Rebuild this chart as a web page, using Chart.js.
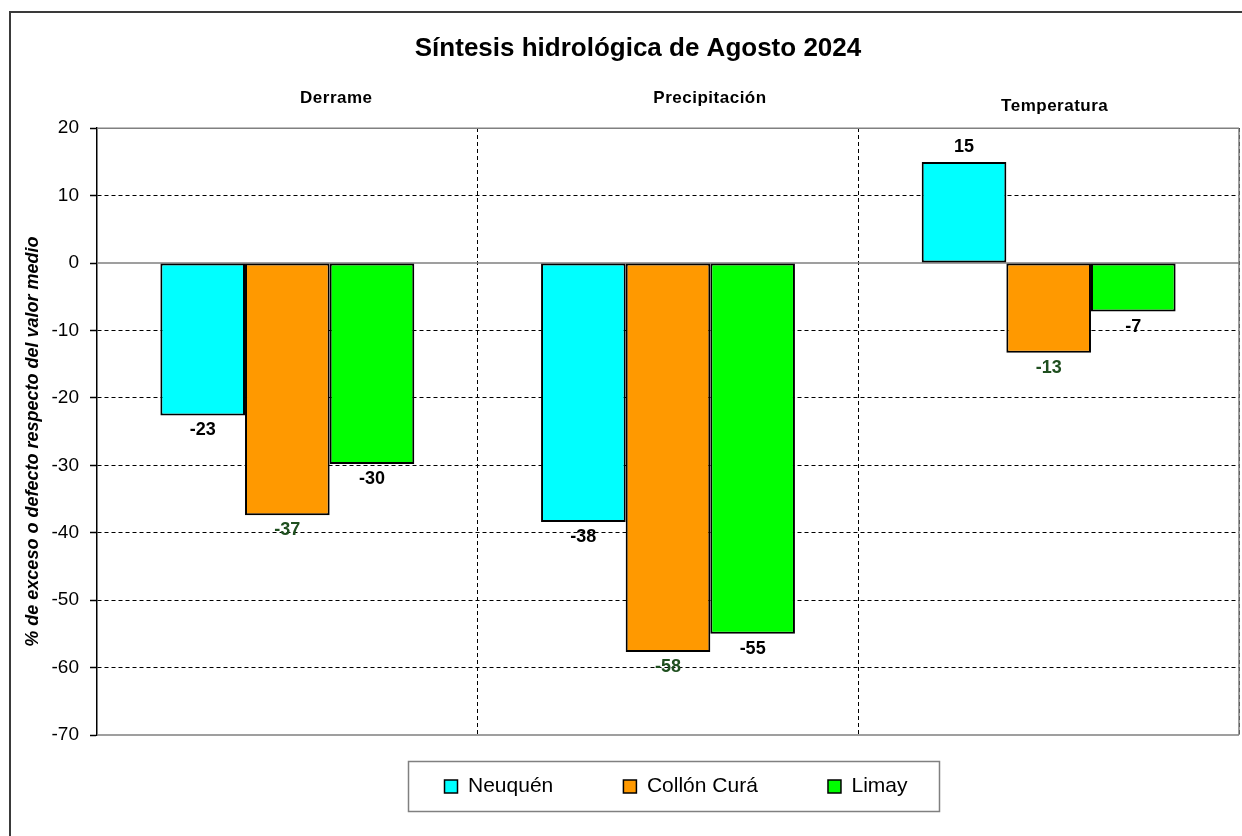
<!DOCTYPE html>
<html>
<head>
<meta charset="utf-8">
<script src="https://cdn.jsdelivr.net/npm/chart.js@4.4.1/dist/chart.umd.min.js"></script>
<style>
  html, body { margin: 0; padding: 0; background: #fff; }
  #wrap { position: relative; width: 1242px; height: 836px; }
</style>
</head>
<body>
<div id="wrap"><canvas id="c"></canvas></div>
<script>
const chartTitle = 'Síntesis hidrológica de Agosto 2024';
const yAxisTitle = '% de exceso o defecto respecto del valor medio';
const categories = ['Derrame', 'Precipitación', 'Temperatura'];
const seriesNames = ['Neuquén', 'Collón Curá', 'Limay'];
const neuquen = [-22.6, -38.4, 15.0];
const collonCura = [-37.4, -57.7, -13.3];
const limay = [-29.8, -55.0, -7.2];
const yTickValues = [20, 10, 0, -10, -20, -30, -40, -50, -60, -70];

const FONT = '"Liberation Sans", Arial, sans-serif';
const seriesColors = ['#00FFFF', '#FF9900', '#00FF00'];
const labelColors = ['#000000', '#1F4F1F', '#000000'];
// layout tweaks for the category captions (pixels), not data
const catShift = [[49, 0], [42, 0], [6, 8]];

const yMax = Math.max(...yTickValues);
const yMin = Math.min(...yTickValues);
const yStep = yTickValues[0] - yTickValues[1];

const decor = {
  id: 'decor',
  afterLayout(chart) {
    if (chart.legend) { chart.legend.left += 8; chart.legend.right += 8; }
  },
  beforeDraw(chart) {
    const c = chart.ctx;
    c.save();
    c.fillStyle = '#fff';
    c.fillRect(0, 0, chart.width, chart.height);
    c.strokeStyle = '#3a3a3a';
    c.lineWidth = 2;
    c.strokeRect(10, 12, chart.width + 40, chart.height + 40);
    c.restore();
  },
  beforeDatasetsDraw(chart) {
    const {ctx, chartArea: a, scales: {y}} = chart;
    ctx.save();
    ctx.setLineDash([]);
    ctx.strokeStyle = '#808080';
    ctx.lineWidth = 1.5;
    const y0 = y.getPixelForValue(0);
    ctx.beginPath();
    ctx.moveTo(a.left, y0); ctx.lineTo(a.right, y0);
    ctx.moveTo(a.left, a.top); ctx.lineTo(a.right, a.top);
    ctx.moveTo(a.left, a.bottom); ctx.lineTo(a.right, a.bottom);
    ctx.moveTo(a.right, a.top); ctx.lineTo(a.right, a.bottom);
    ctx.stroke();
    ctx.restore();
  },
  afterDatasetsDraw(chart) {
    const ctx = chart.ctx;
    ctx.save();
    ctx.font = 'bold 18px ' + FONT;
    ctx.textAlign = 'center';
    ctx.textBaseline = 'middle';
    chart.data.datasets.forEach((ds, di) => {
      const meta = chart.getDatasetMeta(di);
      meta.data.forEach((el, i) => {
        const v = ds.data[i];
        const txt = String(Math.round(v));
        const yy = v < 0 ? el.y + 15 : el.y - 15;
        ctx.fillStyle = labelColors[di];
        ctx.fillText(txt, el.x, yy);
      });
    });
    ctx.restore();
  },
  afterDraw(chart) {
    const {ctx, chartArea: a, scales: {x}} = chart;
    ctx.save();
    ctx.font = 'bold 17px ' + FONT;
    try { ctx.letterSpacing = '0.5px'; } catch (e) {}
    ctx.fillStyle = '#000';
    ctx.textAlign = 'center';
    ctx.textBaseline = 'middle';
    categories.forEach((cat, i) => {
      ctx.fillText(cat, x.getPixelForValue(i) + catShift[i][0], a.top - 30 + catShift[i][1]);
    });
    try { ctx.letterSpacing = '0px'; } catch (e) {}
    // legend frame
    const hb = chart.legend.legendHitBoxes;
    if (hb && hb.length) {
      const first = hb[0], last = hb[hb.length - 1];
      const cy = first.top + first.height / 2;
      const l = first.left - 36, r = last.left + last.width + 32;
      ctx.strokeStyle = '#808080';
      ctx.lineWidth = 1.5;
      ctx.strokeRect(l, cy - 25, r - l, 50);
    }
    ctx.restore();
  }
};

Chart.defaults.font.family = FONT;
Chart.defaults.color = '#000';

new Chart(document.getElementById('c'), {
  type: 'bar',
  data: {
    labels: categories,
    datasets: [
      { label: seriesNames[0], data: neuquen },
      { label: seriesNames[1], data: collonCura },
      { label: seriesNames[2], data: limay }
    ].map((d, i) => Object.assign(d, {
      backgroundColor: seriesColors[i],
      borderColor: '#000',
      borderWidth: 2,
      borderSkipped: false,
      categoryPercentage: 0.667,
      barPercentage: 1.0
    }))
  },
  options: {
    responsive: true,
    maintainAspectRatio: false,
    animation: false,
    devicePixelRatio: 1,
    layout: { padding: { left: 37, right: 3, top: 12, bottom: 29 } },
    plugins: {
      title: {
        display: true,
        text: chartTitle,
        color: '#000',
        font: { size: 26, weight: 'bold', family: FONT },
        padding: { top: 21, bottom: 10 }
      },
      legend: {
        position: 'bottom',
        fullSize: false,
        labels: {
          boxWidth: 13,
          boxHeight: 13,
          padding: 41,
          color: '#000',
          font: { size: 21, family: FONT },
          generateLabels(chart) {
            const items = Chart.defaults.plugins.legend.labels.generateLabels(chart);
            items.forEach((it, i) => {
              if (i < items.length - 1) it.text = it.text + '\u00A0'.repeat(5);
              it.lineWidth = 1.5;
              it.strokeStyle = '#000';
            });
            return items;
          }
        }
      },
      tooltip: { enabled: false }
    },
    scales: {
      x: {
        position: 'top',
        offset: true,
        afterFit(scale) { scale.height = 54; },
        ticks: { display: false },
        grid: {
          offset: true,
          drawTicks: false,
          color: (ctx) => (ctx.index === 0 || ctx.index === categories.length) ? 'rgba(0,0,0,0)' : '#000',
          lineWidth: 1
        },
        border: { display: false, dash: [4, 3] }
      },
      y: {
        min: yMin,
        max: yMax,
        afterFit(scale) { scale.width = 60; },
        ticks: {
          stepSize: yStep,
          padding: 11,
          color: '#000',
          font: { size: 19, family: FONT }
        },
        grid: {
          color: (ctx) => (ctx.tick && (ctx.tick.value === yMax || ctx.tick.value === yMin || ctx.tick.value === 0)) ? 'rgba(0,0,0,0)' : '#000',
          lineWidth: 1,
          tickLength: 7,
          tickColor: '#000',
          tickWidth: 1.5
        },
        border: { display: true, color: '#000', width: 1.5, dash: [4, 3] },
        title: {
          display: true,
          text: yAxisTitle + '\u00A0\u00A0\u00A0\u00A0',
          color: '#000',
          font: { size: 18, weight: 'bold', style: 'italic', family: FONT },
          padding: { top: -15, bottom: 0 }
        }
      }
    }
  },
  plugins: [decor]
});
</script>
</body>
</html>
